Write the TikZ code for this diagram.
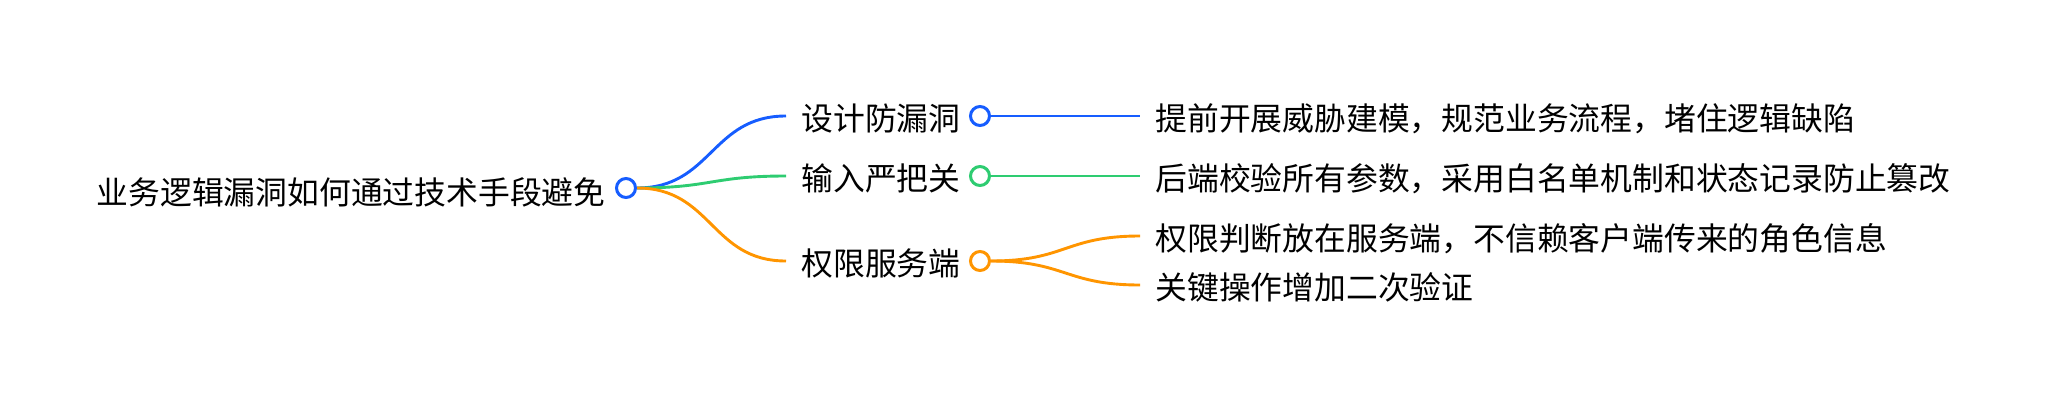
\documentclass[tikz,border=0pt]{standalone}
\usepackage{fontspec}
\setmainfont{Noto Sans CJK SC}
\usetikzlibrary{backgrounds}
\definecolor{cblue}{RGB}{22,93,255}
\definecolor{cgreen}{RGB}{46,204,113}
\definecolor{corange}{RGB}{255,149,0}
\begin{document}
\begin{tikzpicture}[x=1pt,y=-1pt,
  lbl/.style={inner sep=0pt, outer xsep=15.5pt, outer ysep=0pt, anchor=west,
    text height=28pt, text depth=0pt, font=\fontsize{31.8}{36}\selectfont},
  dot/.style={circle, draw=#1, fill=white, line width=3pt, inner sep=0pt, minimum size=19pt},
  link/.style={draw=#1, line width=2.9pt},
]
\useasboundingbox (0,0) rectangle (2054,402);
% root
\node[inner sep=0pt, anchor=base west, font=\fontsize{31.8}{36}\selectfont] (rt) at (96.5,204) {业务逻辑漏洞如何通过技术手段避免};
\node[dot=cblue] (rc) at (626,188) {};
% level 1
\node[lbl] (a) at (786,116) {设计防漏洞};
\node[dot=cblue] (ac) at (980,116) {};
\node[lbl] (b) at (786,176) {输入严把关};
\node[dot=cgreen] (bc) at (980,176) {};
\node[lbl] (c) at (786,261) {权限服务端};
\node[dot=corange] (cc) at (980,261) {};
% level 2
\node[lbl] (a1) at (1140,116) {提前开展威胁建模，规范业务流程，堵住逻辑缺陷};
\node[lbl] (b1) at (1140,176) {后端校验所有参数，采用白名单机制和状态记录防止篡改};
\node[lbl] (c1) at (1140,236) {权限判断放在服务端，不信赖客户端传来的角色信息};
\node[lbl] (c2) at (1140,285) {关键操作增加二次验证};
% connectors
\begin{scope}[on background layer]
\path[link=cblue] (rc.east) .. controls +(75,0) and +(-75,0) .. (a.west);
\path[link=cgreen] (rc.east) .. controls +(75,0) and +(-75,0) .. (b.west);
\path[link=corange] (rc.east) .. controls +(75,0) and +(-75,0) .. (c.west);
\path[link=cblue] (ac.east) -- (a1.west);
\path[link=cgreen] (bc.east) -- (b1.west);
\path[link=corange] (cc.east) .. controls +(75,0) and +(-75,0) .. (c1.west);
\path[link=corange] (cc.east) .. controls +(75,0) and +(-75,0) .. (c2.west);
\end{scope}
\end{tikzpicture}
\end{document}
